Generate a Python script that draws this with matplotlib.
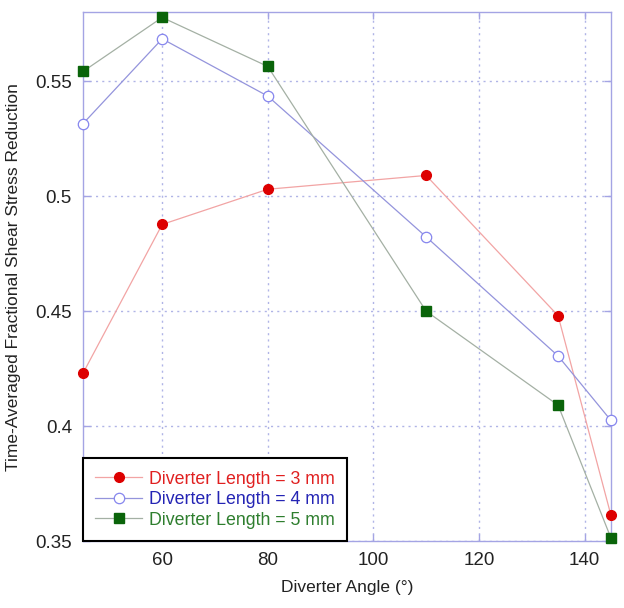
"""
Time-averaged fractional shear stress reduction vs diverter angle,
for three diverter lengths.
"""

import matplotlib

matplotlib.use("Agg")
import matplotlib.pyplot as plt

plt.rcParams["font.family"] = ["Liberation Sans", "DejaVu Sans"]

angles = [45, 60, 80, 110, 135, 145]
length_3mm = [0.423, 0.4877, 0.503, 0.509, 0.448, 0.3613]
length_4mm = [0.5315, 0.5684, 0.5435, 0.4823, 0.4305, 0.4025]
length_5mm = [0.5542, 0.5777, 0.5564, 0.450, 0.4091, 0.3514]
labels = ["Diverter Length = 3 mm", "Diverter Length = 4 mm", "Diverter Length = 5 mm"]

x_ticks = [60, 80, 100, 120, 140]
y_ticks = [0.35, 0.4, 0.45, 0.5, 0.55]
y_tick_labels = ["0.35", "0.4", "0.45", "0.5", "0.55"]

frame_col = "#a4a4e4"

fig = plt.figure(figsize=(6.24, 6.08), dpi=100)
ax = fig.add_axes([0.133, 0.110, 0.846, 0.870])

ax.plot(angles, length_3mm, color="#f2a4a4", linewidth=0.9, marker="o",
        markersize=7, markerfacecolor="#dd0000", markeredgecolor="#dd0000",
        label=labels[0], zorder=3, clip_on=False)
ax.plot(angles, length_4mm, color="#9494dc", linewidth=0.9, marker="o",
        markersize=7.5, markerfacecolor="white", markeredgecolor="#8686ee",
        markeredgewidth=0.9, label=labels[1], zorder=3, clip_on=False)
ax.plot(angles, length_5mm, color="#a4b0a4", linewidth=0.9, marker="s",
        markersize=6.5, markerfacecolor="#0a640a", markeredgecolor="#0a640a",
        label=labels[2], zorder=3, clip_on=False)

ax.set_xlim(45, 145)
ax.set_ylim(0.35, 0.58)
ax.set_xticks(x_ticks)
ax.set_yticks(y_ticks)
ax.set_yticklabels(y_tick_labels)

ax.grid(True, linestyle=(0, (1.5, 3)), color="#b0b4e6", linewidth=1.0)
for sp in ax.spines.values():
    sp.set_color(frame_col)
    sp.set_linewidth(1.0)
ax.tick_params(direction="in", length=5, width=1, color=frame_col,
               top=True, right=True, labelsize=13.5, labelcolor="#222222", pad=8)

ax.set_xlabel("Diverter Angle (°)", fontsize=12.5, color="#222222", labelpad=8)
ax.set_ylabel("Time-Averaged Fractional Shear Stress Reduction",
              fontsize=12.5, color="#222222", labelpad=10)

leg = ax.legend(loc="lower left", borderaxespad=0, fontsize=12.8,
                handlelength=2.6, handletextpad=0.4, labelspacing=0.2,
                borderpad=0.7, fancybox=False, framealpha=1)
leg.set_zorder(5)
leg.get_frame().set_edgecolor("black")
leg.get_frame().set_linewidth(1.5)
for txt, col in zip(leg.get_texts(), ["#e02020", "#2424b4", "#2e7e2e"]):
    txt.set_color(col)

fig.savefig("out.png", dpi=100)
